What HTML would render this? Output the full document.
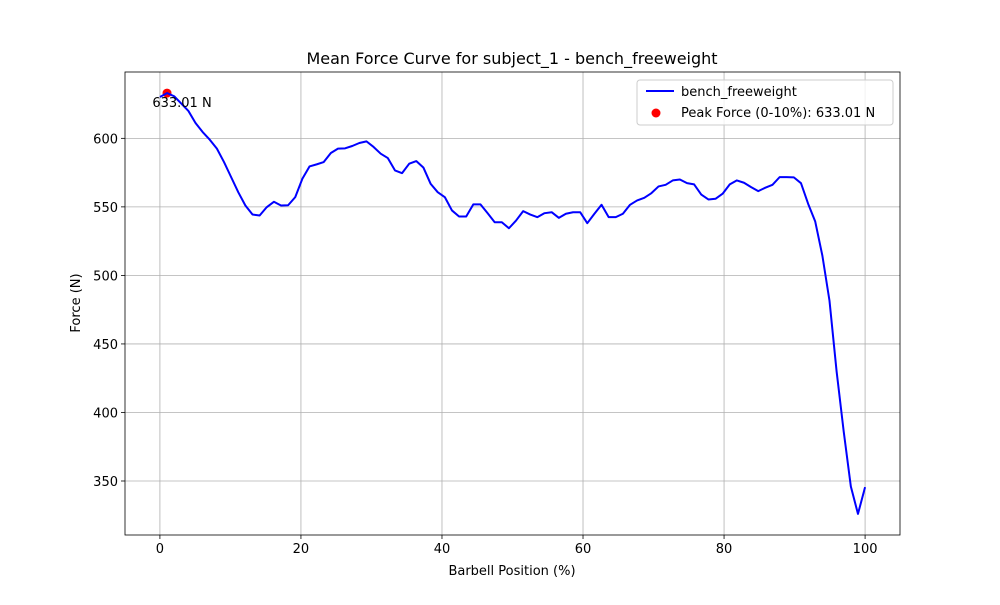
<!DOCTYPE html>
<html><head><meta charset="utf-8"><style>
body{margin:0;background:#fff;font-family:"Liberation Sans","DejaVu Sans",sans-serif;}
svg text{font-family:"DejaVu Sans","Liberation Sans",sans-serif;}
</style></head><body>
<svg id="chart" width="1000" height="600" xmlns="http://www.w3.org/2000/svg">
<rect width="1000" height="600" fill="#fff"/>
<g id="grid"></g>
<g id="axes"></g>
<g id="series"></g>
<text x="512" y="64" font-size="16" text-anchor="middle">Mean Force Curve for subject_1 - bench_freeweight</text>
<text x="512" y="575" font-size="13" text-anchor="middle">Barbell Position (%)</text>
<text x="80" y="303" font-size="13" text-anchor="middle" transform="rotate(-90 80 303)">Force (N)</text>
<g>
<rect x="637" y="80" width="256" height="45" rx="3" fill="#fff" fill-opacity="0.8" stroke="#ccc"/>
<line x1="646" y1="91" x2="674" y2="91" stroke="#0000ff" stroke-width="2"/>
<text x="681" y="96" font-size="13">bench_freeweight</text>
<circle cx="656" cy="113" r="4.5" fill="#ff0000"/>
<text x="681" y="117" font-size="13">Peak Force (0-10%): 633.01 N</text>
</g>
</svg>
<script>
const forceValues=[630.2,633.01,630.7,625.4,620,611.2,604.6,599,592.5,582.7,571.7,560.7,551,544.4,543.7,549.8,553.7,551,551.2,557.1,570.5,579.5,581,582.7,589.3,592.5,592.7,594.4,596.6,597.8,593.7,588.8,585.6,576.6,574.6,581.5,583.4,578.6,566.9,560.7,557.1,547.4,543,543,551.8,551.8,545.4,538.8,538.8,534.4,540,546.9,544.4,542.5,545.4,546.1,542,545,546.1,546.1,538.1,545,551.5,542.5,542.5,545,551.5,554.7,556.6,560,564.9,566.1,569.3,570,567.3,566.4,559,555.4,555.9,559.6,566.4,569.3,567.6,564.4,561.5,564,566.1,571.7,571.7,571.5,567.3,552.3,539.3,514.5,481.6,430,386,346,326,345.5];
const xTicks=[0,20,40,60,80,100];
const yTicks=[350,400,450,500,550,600];
const peakX=[1.0101];
const peakY=[633.01];
const peakLabel=["633.01 N"];

const L=125,R=900,T=72,B=535;
const xMin=-4.95,xMax=104.95,yMin=310.6,yMax=648.4;
const sx=v=>L+(v-xMin)/(xMax-xMin)*(R-L);
const sy=v=>B-(v-yMin)/(yMax-yMin)*(B-T);
const NS="http://www.w3.org/2000/svg";
function mk(tag,parent,attrs){const e=document.createElementNS(NS,tag);for(const k in attrs)e.setAttribute(k,attrs[k]);parent.appendChild(e);return e;}
const grid=document.getElementById('grid'),axes=document.getElementById('axes'),series=document.getElementById('series');
xTicks.forEach(t=>{const x=sx(t);
 const g=mk('line',grid,{x1:x,x2:x,y1:T,y2:B,stroke:'#b0b0b0','stroke-width':0.8});
 
 
 mk('line',axes,{x1:x,x2:x,y1:B,y2:B+4,stroke:'#000','stroke-width':0.8});
 const tx=mk('text',axes,{x:x,y:B+18,'font-size':13,'text-anchor':'middle'});tx.textContent=t;
 
 
});
yTicks.forEach(t=>{const y=sy(t);
 const g=mk('line',grid,{x1:L,x2:R,y1:y,y2:y,stroke:'#b0b0b0','stroke-width':0.8});
 
 
 mk('line',axes,{x1:L-4,x2:L,y1:y,y2:y,stroke:'#000','stroke-width':0.8});
 const tx=mk('text',axes,{x:L-7,y:y+5,'font-size':13,'text-anchor':'end'});tx.textContent=t;
 
 
});
const frame=mk('rect',axes,{x:L,y:T,width:R-L,height:B-T,fill:'none',stroke:'#000','stroke-width':0.8});


const n=forceValues.length;
const pts=forceValues.map((v,i)=>sx(i*100/(n-1)).toFixed(2)+','+sy(v).toFixed(2)).join(' ');
const line=mk('polyline',series,{points:pts,fill:'none',stroke:'#0000ff','stroke-width':2,'stroke-linejoin':'round'});


peakX.forEach((px,i)=>{
 const c=mk('circle',series,{cx:sx(px),cy:sy(peakY[i]),r:4.5,fill:'#ff0000'});
 
 
 series.appendChild(line);
 const t=mk('text',series,{x:sx(px)+15,y:sy(peakY[i])+14,'font-size':13,'text-anchor':'middle'});
 t.textContent=peakLabel[i];
 
 
});
</script>
</body></html>
